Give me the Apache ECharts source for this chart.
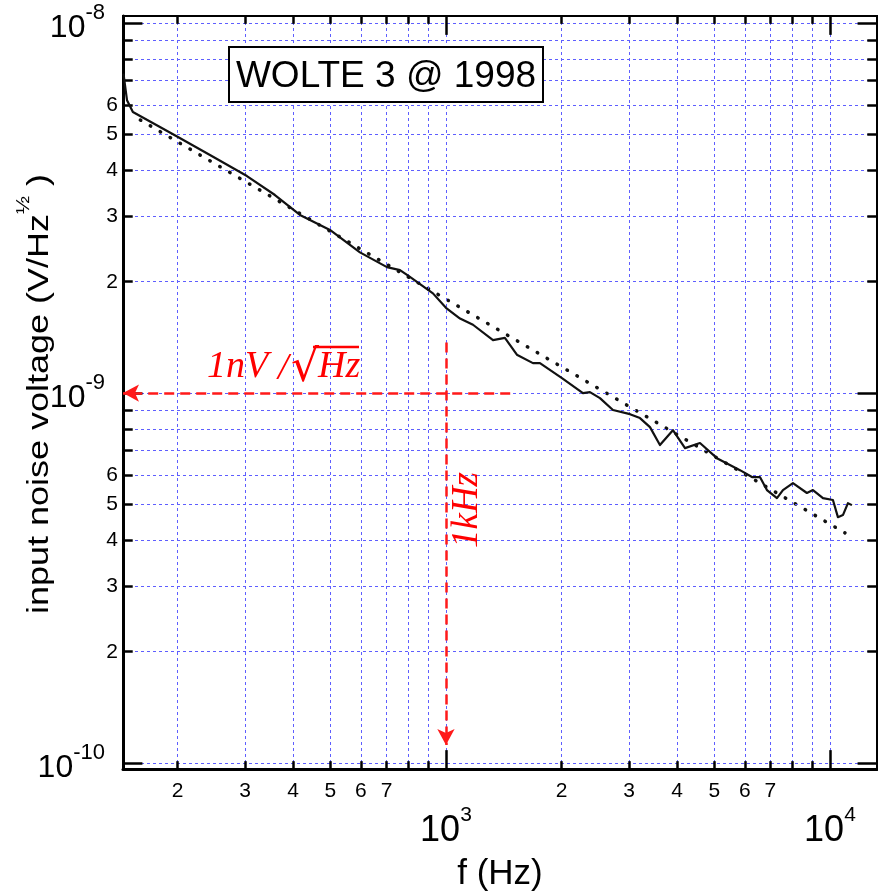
<!DOCTYPE html>
<html>
<head>
<meta charset="utf-8">
<script src="https://cdn.jsdelivr.net/npm/echarts@6/dist/echarts.min.js"></script>
<style>
html,body{margin:0;padding:0;background:#fff;}
#chart{width:878px;height:896px;}
</style>
</head>
<body>
<div id="chart"></div>
<script>
// ---- data ----
const freqHz = [144.6, 147.7, 153, 174.7, 200.5, 242.9, 303.2, 358.6, 416.7, 498.8, 597.1, 702.1, 759.1, 805.8, 925, 1000, 1088, 1176, 1326, 1424, 1530, 1685, 1757, 2005, 2274, 2371, 2518, 2722, 3015, 3201, 3399, 3608, 3900, 4194, 4587, 5078, 5830, 6266, 6572, 6853, 7278, 7544, 8010, 8710, 9031, 9590, 10180, 10490, 10810, 11140, 11410];
const noiseV = [7.3e-9, 6.19e-9, 5.75e-9, 5.33e-9, 4.92e-9, 4.40e-9, 3.86e-9, 3.43e-9, 3.03e-9, 2.76e-9, 2.40e-9, 2.19e-9, 2.15e-9, 2.06e-9, 1.86e-9, 1.70e-9, 1.59e-9, 1.53e-9, 1.39e-9, 1.41e-9, 1.27e-9, 1.205e-9, 1.205e-9, 1.098e-9, 1.00e-9, 1.006e-9, 0.969e-9, 0.900e-9, 0.877e-9, 0.856e-9, 0.809e-9, 0.724e-9, 0.794e-9, 0.710e-9, 0.733e-9, 0.667e-9, 0.619e-9, 0.593e-9, 0.593e-9, 0.547e-9, 0.520e-9, 0.547e-9, 0.571e-9, 0.537e-9, 0.547e-9, 0.520e-9, 0.514e-9, 0.462e-9, 0.468e-9, 0.504e-9, 0.498e-9];
const fitFreqHz = [160, 10940];
const fitNoiseV = [5.47e-9, 4.19e-10];

const xRange = [144.2, 13260];
const yRange = [9.64e-11, 1.045e-8];

const xMajorTicks = [1000, 10000];
const yMajorTicks = [1e-10, 1e-9, 1e-8];
const xMinorTicks = [200, 300, 400, 500, 600, 700, 800, 900, 2000, 3000, 4000, 5000, 6000, 7000, 8000, 9000];
const xMinorLabels = ['2', '3', '4', '5', '6', '7', '', '', '2', '3', '4', '5', '6', '7', '', ''];
const yMinorTicks = [2e-10, 3e-10, 4e-10, 5e-10, 6e-10, 7e-10, 8e-10, 9e-10, 2e-9, 3e-9, 4e-9, 5e-9, 6e-9, 7e-9, 8e-9, 9e-9];
const yMinorLabels = ['2', '3', '4', '5', '6', '', '', '', '2', '3', '4', '5', '6', '', '', ''];

// annotation values
const refFreqHz = 1000;
const refNoiseV = 1e-9;
const hArrowFromHz = 1470;
const vArrowFromV = 1.37e-9;
const vArrowToV = 1.12e-10;

// ---- styles ----
const SANS = 'Liberation Sans, Arial, sans-serif';
const SERIF = 'Liberation Serif, DejaVu Serif, serif';
const gridLine = {color: '#5e5eff', type: [3, 3], width: 1};
const minorLabel = {show: true, fontSize: 21, fontFamily: SANS, color: '#000'};

const chart = echarts.init(document.getElementById('chart'), null, {renderer: 'canvas'});

function expOf(v) { return Math.round(Math.log10(v)); }

// inner tick segments on all four sides
const tickX = 1.06;
const tickY = 1.05;
const tickSegs = [];
xMinorTicks.forEach(v => {
  tickSegs.push([{coord: [v, yRange[0]]}, {coord: [v, yRange[0] * tickY]}]);
  tickSegs.push([{coord: [v, yRange[1]]}, {coord: [v, yRange[1] / tickY]}]);
});
xMajorTicks.forEach(v => {
  tickSegs.push([{coord: [v, yRange[0]]}, {coord: [v, yRange[0] * tickY * tickY * 1.02]}]);
  tickSegs.push([{coord: [v, yRange[1]]}, {coord: [v, yRange[1] / (tickY * tickY * 1.02)]}]);
});
yMinorTicks.forEach(v => {
  tickSegs.push([{coord: [xRange[0], v]}, {coord: [xRange[0] * tickX, v]}]);
  tickSegs.push([{coord: [xRange[1], v]}, {coord: [xRange[1] / tickX, v]}]);
});
yMajorTicks.forEach(v => {
  tickSegs.push([{coord: [xRange[0], v]}, {coord: [xRange[0] * tickX * tickX, v]}]);
  tickSegs.push([{coord: [xRange[1], v]}, {coord: [xRange[1] / (tickX * tickX), v]}]);
});

// dashed grid lines (vertical from bottom to top, horizontal from left to right)
const gridSegs = [];
xMinorTicks.forEach((v, i) => gridSegs.push([
  {coord: [v, yRange[0]], label: Object.assign({}, minorLabel, {formatter: xMinorLabels[i], position: 'start', distance: 12})},
  {coord: [v, yRange[1]]}
]));
xMajorTicks.forEach(v => gridSegs.push([{coord: [v, yRange[0]], label: {show: false}}, {coord: [v, yRange[1]]}]));
yMinorTicks.forEach((v, i) => gridSegs.push([
  {coord: [xRange[0], v], label: Object.assign({}, minorLabel, {formatter: yMinorLabels[i], position: 'start', distance: 5})},
  {coord: [xRange[1], v]}
]));
yMajorTicks.forEach(v => gridSegs.push([{coord: [xRange[0], v], label: {show: false}}, {coord: [xRange[1], v]}]));

const option = {
  animation: false,
  backgroundColor: '#fff',
  grid: {left: 123, right: 1, top: 16, bottom: 127, show: true, borderColor: '#000', borderWidth: 2,
         containLabel: false, outerBoundsMode: 'none'},
  xAxis: {
    type: 'log', logBase: 10, min: xRange[0], max: xRange[1],
    axisLine: {show: true, onZero: false, lineStyle: {color: '#000', width: 3}},
    axisTick: {show: false},
    splitLine: {show: false},
    minorTick: {show: false}, minorSplitLine: {show: false},
    axisLabel: {
      showMinLabel: false, showMaxLabel: false, margin: 36,
      formatter: v => '{b|10}{s|' + expOf(v) + '}',
      rich: {
        b: {fontSize: 36, fontFamily: SANS, color: '#000', lineHeight: 44, verticalAlign: 'bottom'},
        s: {fontSize: 21, fontFamily: SANS, color: '#000', lineHeight: 44, verticalAlign: 'top'}
      }
    },
    name: 'f (Hz)', nameLocation: 'middle', nameGap: 88,
    nameTextStyle: {fontSize: 35, fontFamily: SANS, color: '#000'}
  },
  yAxis: {
    type: 'log', logBase: 10, min: yRange[0], max: yRange[1],
    axisLine: {show: true, onZero: false, lineStyle: {color: '#000', width: 3}},
    axisTick: {show: false},
    splitLine: {show: false},
    minorTick: {show: false}, minorSplitLine: {show: false},
    axisLabel: {
      showMinLabel: false, showMaxLabel: false, margin: 18,
      fontSize: 32, fontFamily: SANS, color: '#000',
      formatter: v => '{b|10}{s|' + expOf(v) + '}',
      rich: {
        b: {fontSize: 32, fontFamily: SANS, color: '#000', lineHeight: 42, verticalAlign: 'bottom'},
        s: {fontSize: 22, fontFamily: SANS, color: '#000', lineHeight: 42, verticalAlign: 'top'}
      }
    }
  },
  series: [
    {
      name: 'grid', type: 'line', data: [], silent: true, z: 1,
      markLine: {
        silent: true, symbol: ['none', 'none'], animation: false,
        lineStyle: gridLine,
        label: minorLabel,
        emphasis: {disabled: true},
        data: gridSegs
      }
    },
    {
      name: 'ticks', type: 'line', data: [], silent: true, z: 3,
      markLine: {
        silent: true, symbol: ['none', 'none'], animation: false,
        lineStyle: {color: '#000', type: 'solid', width: 2.5},
        label: {show: false}, emphasis: {disabled: true},
        data: tickSegs
      }
    },
    {
      name: 'fit', type: 'line', showSymbol: false, symbol: 'none', z: 4,
      data: fitFreqHz.map((f, i) => [f, fitNoiseV[i]]),
      lineStyle: {color: '#111', width: 3.5, type: [0.5, 11], cap: 'round'}
    },
    {
      name: 'noise', type: 'line', showSymbol: false, symbol: 'none', z: 5,
      data: freqHz.map((f, i) => [f, noiseV[i]]),
      lineStyle: {color: '#111', width: 2.2, join: 'round'}
    },
    {
      name: 'arrows', type: 'line', data: [], silent: true, z: 6,
      markLine: {
        silent: true, symbol: ['none', 'arrow'], symbolSize: [13, 16], animation: false,
        lineStyle: {color: '#ff1a1a', type: [10, 6], width: 2.5},
        label: {show: false}, emphasis: {disabled: true},
        data: [
          [{coord: [hArrowFromHz, refNoiseV]}, {coord: [xRange[0], refNoiseV]}],
          [{coord: [refFreqHz, vArrowFromV]}, {coord: [refFreqHz, vArrowToV]}]
        ]
      }
    }
  ],
  graphic: [
    // y-axis title
    {type: 'text', z: 40, x: 35, y: 394, rotation: Math.PI / 2, scaleX: 1.2,
     style: {
       text: '{a|input noise voltage (V/Hz}{s|½}{a| )}',
       align: 'center', verticalAlign: 'middle',
       rich: {
         a: {fontSize: 30, fontFamily: SANS, fill: '#000', lineHeight: 40, verticalAlign: 'bottom'},
         s: {fontSize: 18, fontFamily: SANS, fill: '#000', lineHeight: 40, verticalAlign: 'top'}
       }
     }},
    {type: 'rect', z: 50, shape: {x: 229, y: 47, width: 314, height: 55},
     style: {fill: '#fff', stroke: '#000', lineWidth: 2}},
    {type: 'text', z: 51, x: 386, y: 77,
     style: {text: 'WOLTE 3 @ 1998', fontSize: 37, fontFamily: SANS, fill: '#000', align: 'center', verticalAlign: 'middle'}},
    {type: 'text', z: 51, x: 207, y: 386,
     style: {text: '1nV', fontSize: 38, fontStyle: 'italic', fontFamily: SERIF, fill: '#ff0000', align: 'left', verticalAlign: 'bottom'}},
    {type: 'text', z: 51, x: 278, y: 388,
     style: {text: '/', fontSize: 38, fontStyle: 'italic', fontFamily: SERIF, fill: '#ff0000', align: 'left', verticalAlign: 'bottom'}},
    {type: 'text', z: 51, x: 291, y: 392,
     style: {text: '√', fontSize: 44, fontFamily: 'DejaVu Sans, sans-serif', fill: '#ff0000', align: 'left', verticalAlign: 'bottom'}},
    {type: 'text', z: 51, x: 318, y: 386,
     style: {text: 'Hz', fontSize: 38, fontStyle: 'italic', fontFamily: SERIF, fill: '#ff0000', align: 'left', verticalAlign: 'bottom'}},
    {type: 'line', z: 51, shape: {x1: 313, y1: 347, x2: 359, y2: 347}, style: {stroke: '#ff0000', lineWidth: 2.5}},
    {type: 'text', z: 51, x: 467, y: 510, rotation: Math.PI / 2,
     style: {text: '1kHz', fontSize: 37, fontStyle: 'italic', fontFamily: SERIF, fill: '#ff0000', align: 'center', verticalAlign: 'middle'}}
  ]
};
chart.setOption(option);
</script>
</body>
</html>
